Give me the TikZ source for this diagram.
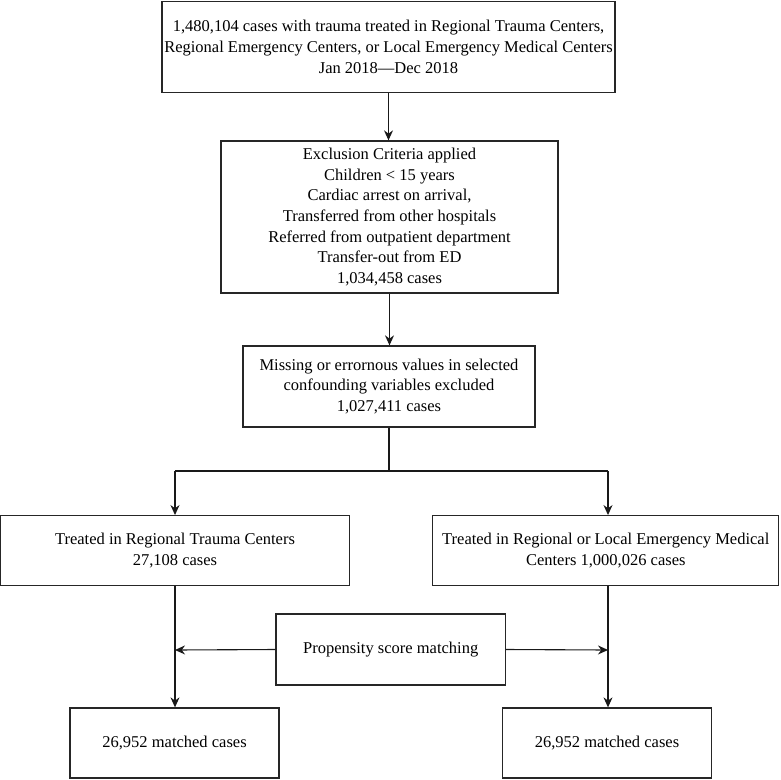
\documentclass[tikz,border=0pt]{standalone}
\usepackage{fontspec}
\setmainfont{Liberation Serif}
\usetikzlibrary{arrows.meta}
\tikzset{
  box/.style={draw=black!85, line width=1.3pt, align=center, inner sep=0pt,
    font=\fontsize{16.5}{20.7}\selectfont},
  conn/.style={line width=1.1pt, draw=black!90},
  arr/.style={conn, -{Stealth[length=10pt,width=9pt]}}
}
\begin{document}
\begin{tikzpicture}[x=1pt,y=-1pt]
\useasboundingbox (0,0) rectangle (781,779);
\node[box, minimum width=453pt, minimum height=91pt] (b1) at (388.5,47)
  {1,480,104 cases with trauma treated in Regional Trauma Centers,\\
   Regional Emergency Centers, or Local Emergency Medical Centers\\
   Jan 2018---Dec 2018};
\node[box, minimum width=337pt, minimum height=152pt] (b2) at (389.5,217)
  {Exclusion Criteria applied\\
   Children {<} 15 years\\
   Cardiac arrest on arrival,\\
   Transferred from other hospitals\\
   Referred from outpatient department\\
   Transfer-out from ED\\
   1,034,458 cases};
\node[box, minimum width=292pt, minimum height=81pt] (b3) at (389,386.5)
  {Missing or errornous values in selected\\
   confounding variables excluded\\
   1,027,411 cases};
\node[box, minimum width=348.5pt, minimum height=70pt] (b4) at (175,550.7)
  {Treated in Regional Trauma Centers\\27,108 cases};
\node[box, minimum width=346pt, minimum height=70pt] (b5) at (605.75,550.7)
  {Treated in Regional or Local Emergency Medical\\Centers 1,000,026 cases};
\node[box, minimum width=229.5pt, minimum height=71pt] (b6) at (390.75,649.5)
  {Propensity score matching};
\node[box, minimum width=209pt, minimum height=70pt] (b7) at (174.5,743)
  {26,952 matched cases};
\node[box, minimum width=209pt, minimum height=70pt] (b8) at (607,743)
  {26,952 matched cases};
\coordinate (j) at (389,471);
\coordinate (jl) at (175,471);
\coordinate (jr) at (608,471);
\coordinate (ml) at (175,650);
\coordinate (mr) at (608,650);
\draw[arr] (b1.south) -- (b1.south |- b2.north);
\draw[arr] (b2.south) -- (b2.south |- b3.north);
\draw[conn] (b3.south) -- (j);
\draw[conn] (jl) -- (jr);
\draw[arr] (jl) -- (jl |- b4.north);
\draw[arr] (jr) -- (jr |- b5.north);
\draw[arr] (jl |- b4.south) -- (jl |- b7.north);
\draw[arr] (jr |- b5.south) -- (jr |- b8.north);
\draw[arr] (b6.west) -- (ml);
\draw[arr] (b6.east) -- (mr);
\end{tikzpicture}
\end{document}
